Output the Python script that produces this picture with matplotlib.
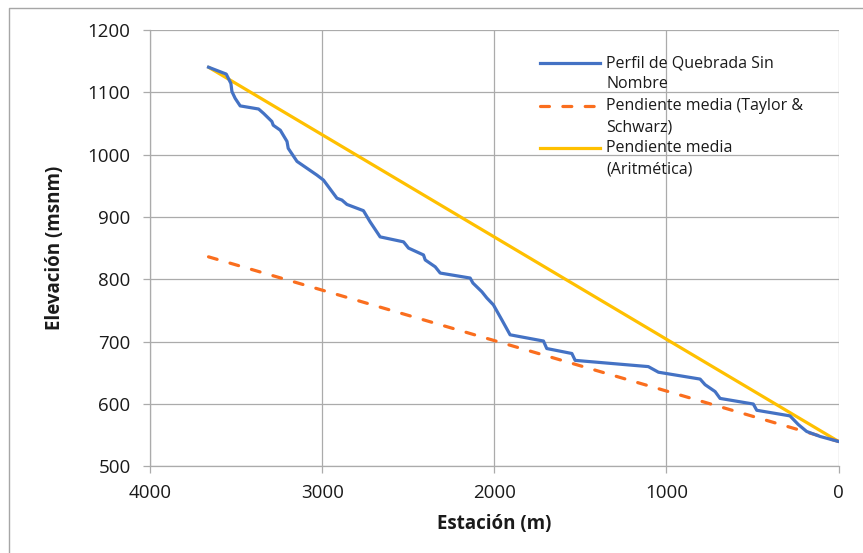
import matplotlib
matplotlib.use('Agg')
import matplotlib.pyplot as plt
from matplotlib.lines import Line2D

# ── data ──────────────────────────────────────────────────────────────────────
station = [3660, 3557, 3530, 3524, 3505, 3476, 3369, 3340, 3292, 3284, 3243,
           3204, 3197, 3146, 3088, 3030, 2992, 2914, 2885, 2856, 2760, 2721,
           2663, 2527, 2498, 2411, 2401, 2343, 2314, 2140, 2124, 2072, 2043,
           2005, 1956, 1908, 1714, 1695, 1549, 1530, 1105, 1046, 804, 775,
           717, 688, 495, 475, 282, 233, 185, 107, 0]
elev = [1140, 1129, 1114, 1101, 1090, 1078, 1073, 1066, 1053, 1047, 1039,
        1021, 1010, 989, 978, 967, 959, 930, 927, 920, 910, 892,
        868, 860, 850, 839, 831, 820, 810, 802, 794, 780, 770,
        759, 735, 711, 701, 689, 681, 670, 660, 651, 640, 631,
        620, 609, 600, 590, 581, 567, 556, 548, 540]

taylor_x = [3660, 0]
taylor_y = [836, 540]
arit_x = [3660, 0]
arit_y = [1140, 540]

LABELS = [['Perfil de Quebrada Sin', 'Nombre'],
          ['Pendiente media (Taylor &', 'Schwarz)'],
          ['Pendiente media', '(Aritmética)']]

C_BLUE = '#4472C4'
C_ORANGE = '#FA6E1E'
C_YELLOW = '#FFC000'
C_GRID = '#ABABAB'
C_TEXT = '#1a1a1a'

plt.rcParams['font.family'] = ['Open Sans', 'DejaVu Sans']

W, H = 863, 553
fig = plt.figure(figsize=(W / 100, H / 100), dpi=100)
ax = fig.add_axes([150 / W, 1 - 466.4 / H, (838.5 - 150) / W, (466.4 - 29.8) / H])

ax.plot(arit_x, arit_y, color=C_YELLOW, lw=2.3, solid_capstyle='round', zorder=3)
ax.plot(taylor_x, taylor_y, color=C_ORANGE, lw=2.3, dashes=(2.8, 4.2),
        dash_capstyle='round', zorder=3)
ax.plot(station, elev, color=C_BLUE, lw=2.3, solid_joinstyle='round', zorder=4)

ax.set_xlim(4000, 0)
ax.set_ylim(500, 1200)
ax.set_xticks(range(4000, -1, -1000))
ax.set_yticks(range(500, 1201, 100))
ax.grid(True, color=C_GRID, lw=0.9)
ax.set_axisbelow(True)
for s in ['top', 'right']:
    ax.spines[s].set_visible(False)
for s in ['left', 'bottom']:
    ax.spines[s].set_color(C_GRID)
    ax.spines[s].set_linewidth(0.9)
ax.tick_params(direction='out', length=5, width=0.9, color=C_GRID,
               labelsize=13.5, labelcolor=C_TEXT)
ax.tick_params(axis='y', pad=9)
ax.tick_params(axis='x', pad=8)

ax.set_xlabel('Estación (m)', fontsize=13.5, fontweight='bold', color=C_TEXT,
              labelpad=8)
ax.set_ylabel('Elevación (msnm)', fontsize=13.5, fontweight='bold', color=C_TEXT,
              labelpad=16)

# manual legend (handle aligned with first text line, as in Excel)
rows = [(63.3, 84.0), (105.5, 128.0), (147.5, 170.0)]
styles = [dict(color=C_BLUE), dict(color=C_ORANGE, dashes=(2.8, 4.2),
                                    dash_capstyle='round'),
          dict(color=C_YELLOW)]
for (y1, y2), lab, st in zip(rows, LABELS, styles):
    fig.add_artist(Line2D([540 / W, 600 / W], [1 - y1 / H, 1 - y1 / H],
                          lw=2.3, transform=fig.transFigure, **st))
    fig.text(606 / W, 1 - y1 / H, lab[0], fontsize=11.5, color=C_TEXT, va='center')
    fig.text(606 / W, 1 - y2 / H, lab[1], fontsize=11.5, color=C_TEXT, va='center')

# chart-area border (only left/top edges visible in the crop)
fig.add_artist(Line2D([9 / W, 9 / W, 1], [0, 1 - 8 / H, 1 - 8 / H],
                      lw=1, color='#A6A6A6', transform=fig.transFigure))

fig.savefig('out.png', dpi=100)
